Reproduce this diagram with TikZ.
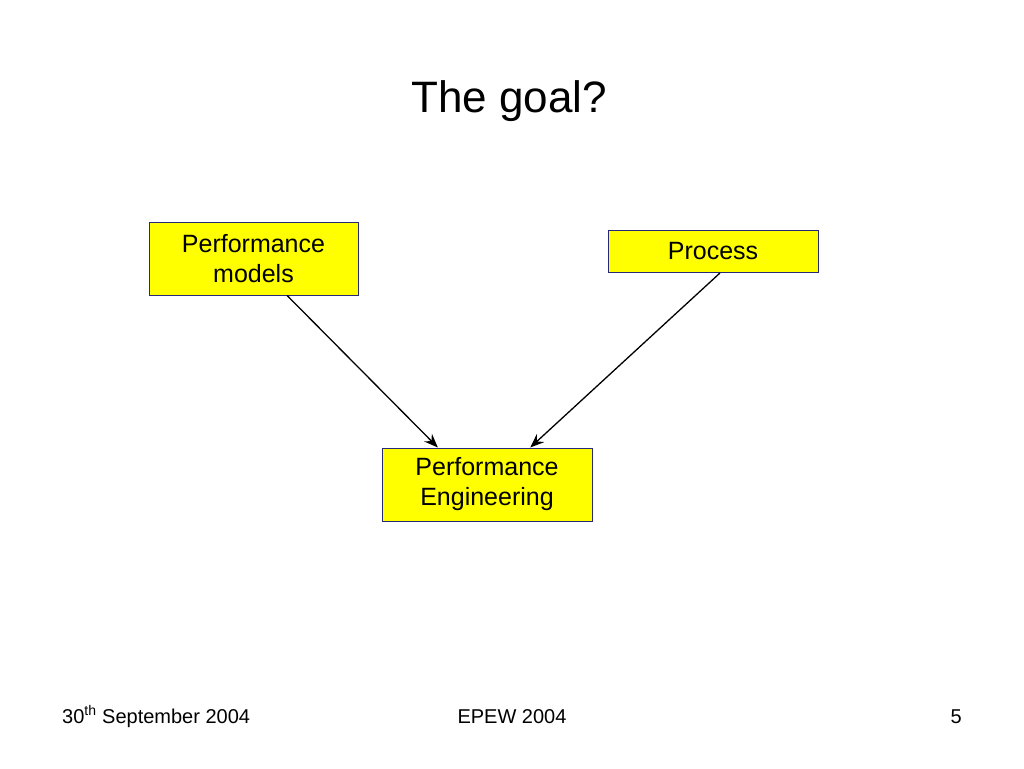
\documentclass[tikz,border=0pt]{standalone}
\usepackage{fontspec}
\setmainfont{Liberation Sans}
\usetikzlibrary{arrows.meta,calc}
\definecolor{boxline}{RGB}{40,40,120}
\definecolor{boxfill}{RGB}{255,255,0}
\begin{document}
\begin{tikzpicture}[x=1pt,y=-1pt,
  box/.style={draw=boxline,fill=boxfill,line width=1pt,inner sep=0pt,align=center,
    font=\fontsize{25}{30}\selectfont},
  conn/.style={line width=1.3pt,-{Stealth[length=14pt,width=11pt,inset=5pt]}},
  foot/.style={font=\fontsize{20}{24}\selectfont,inner sep=0pt}]
\useasboundingbox[fill=white] (0,0) rectangle (1024,768);
\node[font=\fontsize{44}{50}\selectfont,anchor=base,inner sep=0pt] (title) at (509,112) {The goal?};
\node[box,minimum width=209pt,minimum height=73pt] (pm) at (253.5,258.5) {Performance\\models};
\node[box,minimum width=210pt,minimum height=42pt] (pr) at (713,251.5) {Process};
\node[box,minimum width=210pt,minimum height=73pt] (pe) at (487,484.5) {Performance\\Engineering};
\draw[conn] ($(pm.south west)!0.66!(pm.south east)$) -- ($(pe.north west)!0.267!(pe.north east)$);
\draw[conn] ($(pr.south west)!0.533!(pr.south east)$) -- ($(pe.north west)!0.705!(pe.north east)$);
\node[foot,anchor=base west] (date) at (62,723) {30\textsuperscript{th} September 2004};
\node[foot,anchor=base] (conf) at (512,723) {EPEW 2004};
\node[foot,anchor=base east] (page) at (962,723) {5};
\end{tikzpicture}
\end{document}
